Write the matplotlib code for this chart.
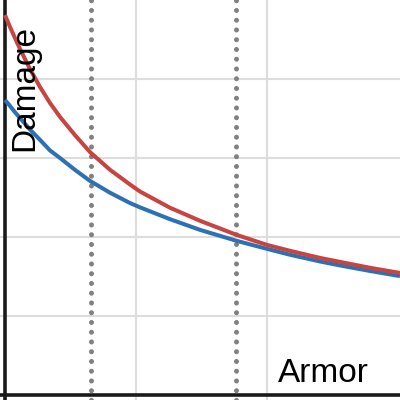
import matplotlib
matplotlib.use("Agg")
import matplotlib.pyplot as plt

# values (armor, damage)
armor = [0, 3.8, 7.6, 11.5, 19.1, 26.7, 34.4, 42.0, 53.4, 64.9, 80.2, 95.4,
         103.1, 126.0, 148.9, 177.1, 200.0, 217.6, 240.5, 255.7, 278.6, 301.5]
red_damage = [96.2, 93.2, 90.4, 87.6, 82.5, 78.0, 73.9, 70.4, 65.8, 61.5, 57.0,
              53.3, 51.5, 47.4, 44.1, 40.5, 38.0, 36.5, 34.7, 33.7, 32.2, 30.9]
blue_damage = [74.7, 73.2, 71.6, 70.1, 67.2, 64.6, 61.9, 60.0, 57.0, 54.2, 51.2,
               48.6, 47.5, 44.5, 41.8, 39.0, 37.0, 35.5, 33.8, 32.8, 31.4, 30.1]

marker_armor = [66, 176]  # dotted lines

fig = plt.figure(figsize=(4, 4), dpi=100)
ax = fig.add_axes([0, 0, 1, 1])
ax.set_xlim(-3.8, 301.5)
ax.set_ylim(-1.27, 100)

for s in ax.spines.values():
    s.set_visible(False)
ax.set_xticks([100, 200])
ax.set_yticks([20, 40, 60, 80])
ax.tick_params(length=0, labelbottom=False, labelleft=False)
ax.grid(True, color="#dddddd", linewidth=1.5)
ax.set_axisbelow(True)

ax.axhline(0, color="#1a1a1a", linewidth=2.6, zorder=2)
ax.axvline(0, color="#1a1a1a", linewidth=2.6, zorder=2)

for a in marker_armor:
    ax.axvline(a, color="#808080", linewidth=3.6, linestyle=(0, (0.01, 1.94)),
               dash_capstyle="round", zorder=3)

ax.plot(armor, blue_damage, color="#2d70b3", linewidth=2.9, zorder=4,
        solid_capstyle="butt", solid_joinstyle="round")
ax.plot(armor, red_damage, color="#c74440", linewidth=2.9, zorder=5,
        solid_capstyle="butt", solid_joinstyle="round")

ax.text(0.0625, 0.78, "Damage", rotation=90, ha="center", va="center",
        fontsize=24, family="Liberation Sans", transform=ax.transAxes, zorder=6)
ax.text(0.695, 0.045, "Armor", ha="left", va="baseline",
        fontsize=24, family="Liberation Sans", transform=ax.transAxes, zorder=6)

fig.savefig("out.png", dpi=100)
